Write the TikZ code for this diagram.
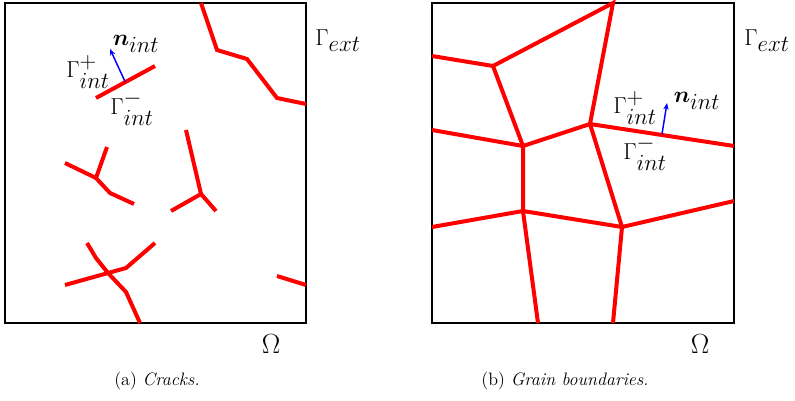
\documentclass[tikz,border=0pt]{standalone}
\usepackage{amsmath}
\usetikzlibrary{arrows.meta}
\DeclareMathSizes{18}{18}{16}{14}
\DeclareMathSizes{21}{21}{17}{14}
\begin{document}
\begin{tikzpicture}[x=0.75pt,y=-0.75pt,
  frame/.style={draw=black,line width=1.1pt},
  crack/.style={draw=red,line width=3pt,line join=miter},
  normal/.style={draw=blue,line width=1.1pt,-{Stealth[length=5pt,width=4pt]}},
  lbl/.style={font=\fontsize{18}{22}\selectfont,inner sep=0pt},
  domlbl/.style={font=\fontsize{21}{25}\selectfont,inner sep=0pt},
  captext/.style={font=\fontsize{13.5}{16}\selectfont,inner sep=0pt}]
\useasboundingbox (0,0) rectangle (795,400);
% ---------- left panel ----------
\draw[frame] (5,3) rectangle (306,323);
% top right crack
\coordinate (a1) at (201,3);
\coordinate (a2) at (217,50);
\coordinate (a3) at (247,59);
\coordinate (a4) at (277,98);
\coordinate (a5) at (306,104);
\draw[crack] (a1)--(a2)--(a3)--(a4)--(a5);
% interface crack
\coordinate (i1) at (96,98);
\coordinate (i2) at (155,66);
\coordinate (ia) at (125,81.5);
\coordinate (ib) at (110,49);
\draw[crack] (i1)--(i2);
\draw[normal] (ia)--(ib);
% crack A
\coordinate (b0) at (96,178);
\draw[crack] (65,163)--(b0)--(107,147);
\draw[crack] (b0)--(110,193)--(134,204);
% crack B
\coordinate (c0) at (201,194);
\draw[crack] (186,130)--(c0)--(171,211);
\draw[crack] (c0)--(216,211);
% crack C
\coordinate (d0) at (108,273);
\draw[crack] (65,285)--(d0)--(126,268)--(155,243);
\draw[crack] (87,243)--(96,258)--(d0)--(126,292)--(140,323);
% crack D
\draw[crack] (277,276)--(306,285);
% labels
\node[lbl] (nl) at (136,44) {$\boldsymbol{n}_{int}$};
\node[lbl] (gpl) at (88,72) {$\Gamma^{+}_{int}$};
\node[lbl] (gml) at (132,108) {$\Gamma^{-}_{int}$};
\node[lbl] (gel) at (338,41) {$\Gamma_{ext}$};
\node[domlbl] (oml) at (271,344) {$\Omega$};
\node[captext] (capa) at (157,381) {(a) \textit{Cracks.}};
% ---------- right panel ----------
\draw[frame] (432,3) rectangle (734,323);
\coordinate (P1) at (613,3);
\coordinate (Q1) at (493,66);
\coordinate (Q2) at (523,146);
\coordinate (Q3) at (590,124);
\coordinate (Q4) at (523,211);
\coordinate (Q5) at (622,227);
\draw[crack] (432,56)--(Q1)--(P1)--(Q3)--(734,146);
\draw[crack] (Q1)--(Q2)--(Q3)--(Q5)--(734,201);
\draw[crack] (432,130)--(Q2)--(Q4)--(Q5)--(613,323);
\draw[crack] (432,227)--(Q4)--(538,323);
\coordinate (ra) at (662,134);
\coordinate (rb) at (667,103);
\draw[normal] (ra)--(rb);
\node[lbl] (nr) at (697,101) {$\boldsymbol{n}_{int}$};
\node[lbl] (gpr) at (635,108) {$\Gamma^{+}_{int}$};
\node[lbl] (gmr) at (645,153) {$\Gamma^{-}_{int}$};
\node[lbl] (ger) at (767,41) {$\Gamma_{ext}$};
\node[domlbl] (omr) at (700,344) {$\Omega$};
\node[captext] (capb) at (565,381) {(b) \textit{Grain boundaries.}};
\end{tikzpicture}
\end{document}
